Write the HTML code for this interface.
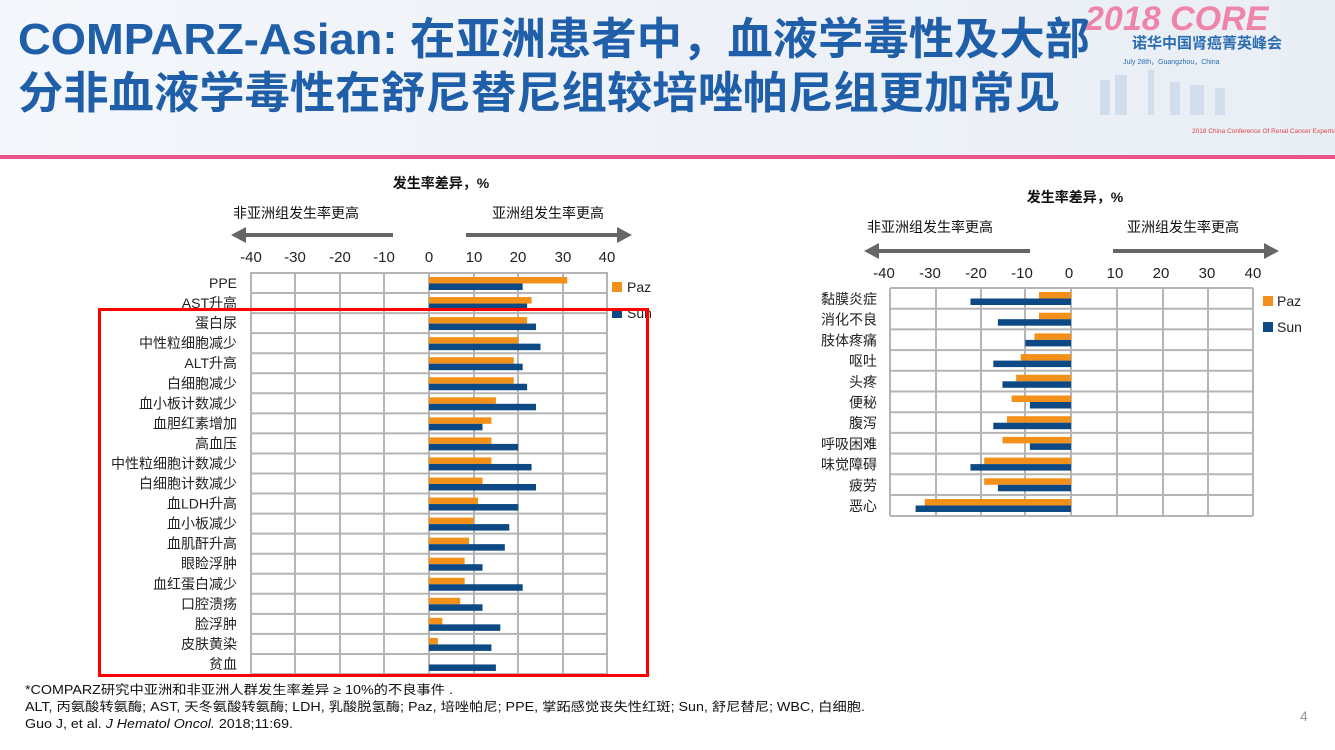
<!DOCTYPE html>
<html><head><meta charset="utf-8"><style>
body{margin:0;width:1335px;height:745px;overflow:hidden;background:#fff;font-family:"Liberation Sans","Noto Sans CJK SC",sans-serif}
</style></head><body>
<svg width="1335" height="745" xmlns="http://www.w3.org/2000/svg" font-family="Liberation Sans, Noto Sans CJK SC, sans-serif">
<defs><linearGradient id="hg" x1="0" x2="1" y1="0" y2="0"><stop offset="0" stop-color="#f4f7fb"/><stop offset="1" stop-color="#e9eef5"/></linearGradient></defs>
<rect x="0" y="0" width="1335" height="155" fill="url(#hg)"/>
<g fill="#c8d6e8" opacity="0.7"><rect x="1100" y="80" width="10" height="35"/><rect x="1115" y="75" width="12" height="40"/><rect x="1148" y="70" width="6" height="45"/><rect x="1170" y="82" width="10" height="33"/><rect x="1190" y="85" width="14" height="30"/><rect x="1215" y="88" width="10" height="27"/></g>
<text x="1085" y="30" font-size="34" font-style="italic" font-weight="bold" fill="#f06a96" opacity="0.8">2018 CORE</text>
<text x="1132" y="48" font-size="15" font-weight="bold" fill="#2b6db3">诺华中国肾癌菁英峰会</text>
<text x="1123" y="64" font-size="7" fill="#2b6db3">July 28th，Guangzhou，China</text>
<text x="1192" y="133" font-size="6.5" fill="#d44">2018 China Conference Of Renal Cancer Experts</text>
<rect x="0" y="155" width="1335" height="4" fill="#e8558a"/>
<text x="18" y="54" font-size="44" font-weight="bold" fill="#1f5ea8" textLength="1072" lengthAdjust="spacingAndGlyphs">COMPARZ-Asian: 在亚洲患者中，血液学毒性及大部</text>
<text x="18" y="108" font-size="44" font-weight="bold" fill="#1f5ea8" textLength="1042" lengthAdjust="spacingAndGlyphs">分非血液学毒性在舒尼替尼组较培唑帕尼组更加常见</text>

<!-- LEFT CHART -->
<text x="441" y="188" font-size="14" font-weight="bold" text-anchor="middle" fill="#111">发生率差异，%</text>
<text x="296" y="218" font-size="14" text-anchor="middle" fill="#111">非亚洲组发生率更高</text>
<text x="548" y="218" font-size="14" text-anchor="middle" fill="#111">亚洲组发生率更高</text>
<line x1="244" y1="235" x2="393" y2="235" stroke="#666" stroke-width="4"/>
<polygon points="231,235 246,227 246,243" fill="#666"/>
<line x1="466" y1="235" x2="618" y2="235" stroke="#666" stroke-width="4"/>
<polygon points="632,235 617,227 617,243" fill="#666"/>
<g font-size="15" fill="#222" text-anchor="middle">
<text x="251" y="262">-40</text><text x="295" y="262">-30</text><text x="340" y="262">-20</text><text x="384" y="262">-10</text><text x="429" y="262">0</text><text x="474" y="262">10</text><text x="518" y="262">20</text><text x="563" y="262">30</text><text x="607" y="262">40</text>
</g>
<g stroke="#b5b5b5" stroke-width="2">
<line x1="251" y1="272" x2="251" y2="674"/><line x1="295" y1="272" x2="295" y2="674"/><line x1="340" y1="272" x2="340" y2="674"/><line x1="384" y1="272" x2="384" y2="674"/><line x1="429" y1="272" x2="429" y2="674"/><line x1="474" y1="272" x2="474" y2="674"/><line x1="518" y1="272" x2="518" y2="674"/><line x1="563" y1="272" x2="563" y2="674"/><line x1="607" y1="272" x2="607" y2="674"/>
</g>
<g id="lrows"></g>
<rect x="612" y="282" width="10" height="10" fill="#f39019"/><text x="627" y="292" font-size="14" fill="#222">Paz</text>
<rect x="612" y="308" width="10" height="10" fill="#0d4a85"/><text x="627" y="318" font-size="14" fill="#222">Sun</text>
<rect x="99.5" y="309.5" width="548" height="366" fill="none" stroke="#f00" stroke-width="3"/>

<!-- RIGHT CHART -->
<text x="1075" y="202" font-size="14" font-weight="bold" text-anchor="middle" fill="#111">发生率差异，%</text>
<text x="930" y="232" font-size="14" text-anchor="middle" fill="#111">非亚洲组发生率更高</text>
<text x="1183" y="232" font-size="14" text-anchor="middle" fill="#111">亚洲组发生率更高</text>
<line x1="876" y1="251" x2="1030" y2="251" stroke="#666" stroke-width="4"/>
<polygon points="864,251 879,243 879,259" fill="#666"/>
<line x1="1113" y1="251" x2="1265" y2="251" stroke="#666" stroke-width="4"/>
<polygon points="1279,251 1264,243 1264,259" fill="#666"/>
<g font-size="15" fill="#222" text-anchor="middle">
<text x="884" y="278">-40</text><text x="930" y="278">-30</text><text x="976" y="278">-20</text><text x="1022" y="278">-10</text><text x="1069" y="278">0</text><text x="1115" y="278">10</text><text x="1161" y="278">20</text><text x="1207" y="278">30</text><text x="1253" y="278">40</text>
</g>
<g stroke="#b5b5b5" stroke-width="2">
<line x1="890" y1="288" x2="890" y2="516"/><line x1="936" y1="288" x2="936" y2="516"/><line x1="981" y1="288" x2="981" y2="516"/><line x1="1025" y1="288" x2="1025" y2="516"/><line x1="1071" y1="288" x2="1071" y2="516"/><line x1="1117" y1="288" x2="1117" y2="516"/><line x1="1163" y1="288" x2="1163" y2="516"/><line x1="1208" y1="288" x2="1208" y2="516"/><line x1="1253" y1="288" x2="1253" y2="516"/>
</g>
<g id="rrows"></g>
<rect x="1263" y="296" width="10" height="10" fill="#f39019"/><text x="1277" y="306" font-size="14" fill="#222">Paz</text>
<rect x="1263" y="322" width="10" height="10" fill="#0d4a85"/><text x="1277" y="332" font-size="14" fill="#222">Sun</text>

<!-- FOOTER -->
<g font-size="12.5" fill="#111">
<text x="25" y="694" textLength="428" lengthAdjust="spacingAndGlyphs">*COMPARZ研究中亚洲和非亚洲人群发生率差异 ≥ 10%的不良事件 .</text>
<text x="25" y="711" textLength="840" lengthAdjust="spacingAndGlyphs">ALT, 丙氨酸转氨酶; AST, 天冬氨酸转氨酶; LDH, 乳酸脱氢酶; Paz, 培唑帕尼; PPE, 掌跖感觉丧失性红斑; Sun, 舒尼替尼; WBC, 白细胞.</text>
<text x="25" y="728" textLength="268" lengthAdjust="spacingAndGlyphs">Guo J, et al. <tspan font-style="italic">J Hematol Oncol.</tspan> 2018;11:69.</text>
</g>
<text x="1300" y="721" font-size="14" fill="#999">4</text>
</svg>
<script>
var ns="http://www.w3.org/2000/svg";
function el(p,t,a,txt){var e=document.createElementNS(ns,t);for(var k in a)e.setAttribute(k,a[k]);if(txt)e.textContent=txt;p.appendChild(e);}
var L=[["PPE",31,21],["AST升高",23,22],["蛋白尿",22,24],["中性粒细胞减少",20,25],["ALT升高",19,21],["白细胞减少",19,22],["血小板计数减少",15,24],["血胆红素增加",14,12],["高血压",14,20],["中性粒细胞计数减少",14,23],["白细胞计数减少",12,24],["血LDH升高",11,20],["血小板减少",10,18],["血肌酐升高",9,17],["眼睑浮肿",8,12],["血红蛋白减少",8,21],["口腔溃疡",7,12],["脸浮肿",3,16],["皮肤黄染",2,14],["贫血",0,15]];
var g=document.getElementById("lrows");
for(var i=0;i<L.length;i++){var t=273+i*20.05;
 el(g,"line",{x1:251,x2:607,y1:t,y2:t,stroke:"#b5b5b5","stroke-width":2});
 if(L[i][1]>0)el(g,"rect",{x:429,y:t+4,width:L[i][1]*4.46,height:6.5,fill:"#f39019"});
 el(g,"rect",{x:429,y:t+10.5,width:L[i][2]*4.46,height:6.5,fill:"#0d4a85"});
 el(g,"text",{x:237,y:t+15,"font-size":14,"text-anchor":"end",fill:"#222"},L[i][0]);}
el(g,"line",{x1:251,x2:607,y1:674,y2:674,stroke:"#b5b5b5","stroke-width":2});
var R=[["黏膜炎症",7,22],["消化不良",7,16],["肢体疼痛",8,10],["呕吐",11,17],["头疼",12,15],["便秘",13,9],["腹泻",14,17],["呼吸困难",15,9],["味觉障碍",19,22],["疲劳",19,16],["恶心",32,34]];
g=document.getElementById("rrows");var p=20.7,s=4.57;
for(var i=0;i<R.length;i++){var t=288+i*p;
 el(g,"line",{x1:890,x2:1253,y1:t,y2:t,stroke:"#b5b5b5","stroke-width":2});
 el(g,"rect",{x:1071-R[i][1]*s,y:t+4,width:R[i][1]*s,height:6.5,fill:"#f39019"});
 el(g,"rect",{x:1071-R[i][2]*s,y:t+10.5,width:R[i][2]*s,height:6.5,fill:"#0d4a85"});
 el(g,"text",{x:877,y:t+16,"font-size":14,"text-anchor":"end",fill:"#222"},R[i][0]);}
el(g,"line",{x1:890,x2:1253,y1:516,y2:516,stroke:"#b5b5b5","stroke-width":2});
</script>
</body></html>
